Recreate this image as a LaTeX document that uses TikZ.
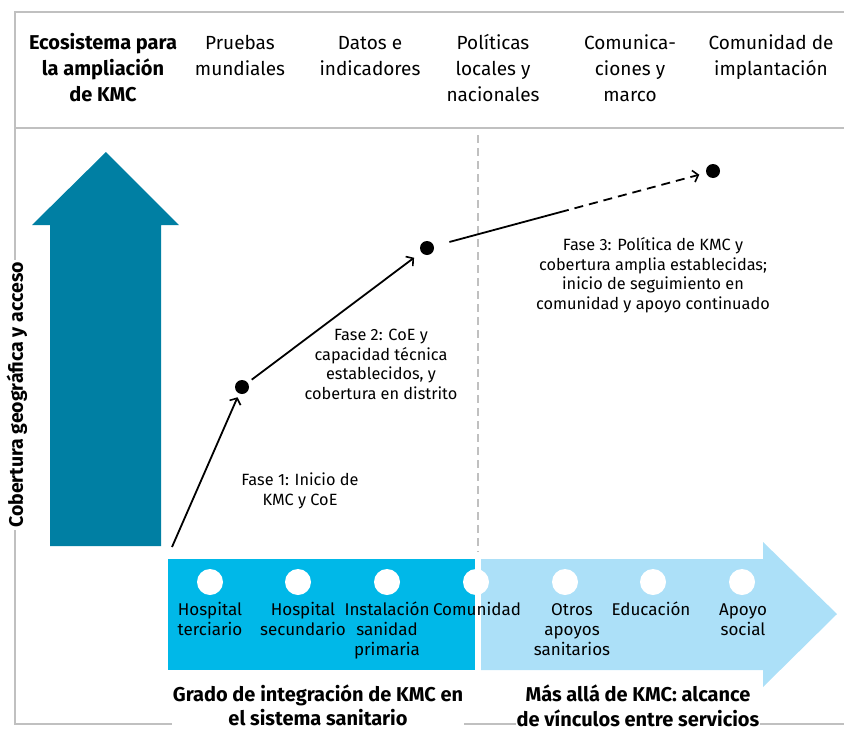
\documentclass[tikz,border=0pt]{standalone}
\usepackage{fontspec}
\setmainfont{Fira Sans}
\usetikzlibrary{arrows.meta,calc}
\definecolor{teal}{RGB}{0,127,163}
\definecolor{cyanband}{RGB}{0,184,232}
\definecolor{lightband}{RGB}{172,224,248}
\definecolor{framegray}{RGB}{192,192,192}
\tikzset{
  hdr/.style={align=center, inner sep=0pt, anchor=north, font=\fontsize{19}{26}\selectfont},
  hdrb/.style={hdr, font=\fontsize{20}{26}\selectfont\bfseries},
  fase/.style={align=center, inner sep=0pt, anchor=north, font=\fontsize{16.3}{19.5}\selectfont},
  band/.style={align=center, inner sep=0pt, anchor=north, font=\fontsize{17}{20}\selectfont},
  foot/.style={align=center, inner sep=1pt, anchor=north, fill=white, font=\fontsize{20}{23.5}\selectfont\bfseries},
  dot/.style={circle, fill=black, inner sep=0pt, minimum size=14pt},
  wdot/.style={circle, fill=white, inner sep=0pt, minimum size=26pt},
  frame/.style={draw=framegray, line width=1.6pt},
  conn/.style={line width=1.8pt, -{Straight Barb[length=5pt,width=12pt,line width=1.6pt]}},
}
\begin{document}
\begin{tikzpicture}[x=1pt,y=-1pt]
\useasboundingbox (0,0) rectangle (844,731);
% frame
\draw[frame] (844,12) -- (15,12) -- (15,724) -- (844,724);
\draw[frame] (15,128) -- (844,128);
\draw[draw=framegray, line width=1.4pt, dash pattern=on 8pt off 5pt] (478,135) -- (478,552);
% header
\node[hdrb] (h0) at (103,31) {\strut Ecosistema para\\la ampliación\\de KMC};
\node[hdr] (h1) at (240,31) {\strut Pruebas\\mundiales};
\node[hdr] (h2) at (370,31) {\strut Datos e\\indicadores};
\node[hdr] (h3) at (493,31) {\strut Políticas\\locales y\\nacionales};
\node[hdr] (h4) at (630,31) {\strut Comunica-\\ciones y\\marco};
\node[hdr] (h5) at (771,31) {\strut Comunidad de\\implantación};
% vertical axis label
\node[rotate=90, fill=white, inner sep=2pt, font=\fontsize{19.5}{22}\selectfont\bfseries] (ylab) at (17,395) {Cobertura geográfica y acceso};
% big teal arrow
\fill[teal] (50,546) -- (50,225) -- (32,225) -- (106,152) -- (179,225) -- (161,225) -- (161,546) -- cycle;
% footer labels
\node[foot] (f1) at (318,684) {\strut Grado de integración de KMC en\\el sistema sanitario};
\node[foot] (f2) at (638,684) {\strut Más allá de KMC: alcance\\de vínculos entre servicios};
% band
\fill[cyanband] (168,559) rectangle (475,670);
\fill[lightband] (481,559) -- (763,559) -- (763,542) -- (837,614) -- (763,687) -- (763,670) -- (481,670) -- cycle;
\node[wdot] (c1) at (210,582) {};
\node[wdot] (c2) at (298,582) {};
\node[wdot] (c3) at (387,582) {};
\node[wdot] (c4) at (476,582) {};
\node[wdot] (c5) at (565,582) {};
\node[wdot] (c6) at (653,582) {};
\node[wdot] (c7) at (742,582) {};
\node[band] (b1) at (210,601) {\strut Hospital\\terciario};
\node[band] (b2) at (303,601) {\strut Hospital\\secundario};
\node[band] (b3) at (387,601) {\strut Instalación\\sanidad\\primaria};
\node[band] (b4) at (477,601) {\strut Comunidad};
\node[band] (b5) at (572,601) {\strut Otros\\apoyos\\sanitarios};
\node[band] (b6) at (651,601) {\strut Educación};
\node[band] (b7) at (743,601) {\strut Apoyo\\social};
% phases
\coordinate (s0) at (172,547);
\node[dot] (p1) at (242,387) {};
\node[dot] (p2) at (427,248) {};
\node[dot] (p3) at (713,171) {};
\coordinate (mid) at ($(p2)!0.465!(p3)$);
\draw[conn, shorten >=4pt] (s0) -- (p1);
\draw[conn, shorten <=5pt, shorten >=9pt] (p1) -- (p2);
\draw[line width=1.8pt, shorten <=16pt] (p2) -- (mid);
\draw[conn, dash pattern=on 9pt off 6pt, shorten >=7pt] (mid) -- (p3);
\node[fase] (t1) at (300,472) {\strut Fase 1: Inicio de\\KMC y CoE};
\node[fase] (t2) at (381,327) {\strut Fase 2: CoE y\\capacidad técnica\\establecidos, y\\cobertura en distrito};
\node[fase] (t3) at (653,237) {\strut Fase 3: Política de KMC y\\cobertura amplia establecidas;\\inicio de seguimiento en\\comunidad y apoyo continuado};
\end{tikzpicture}
\end{document}
